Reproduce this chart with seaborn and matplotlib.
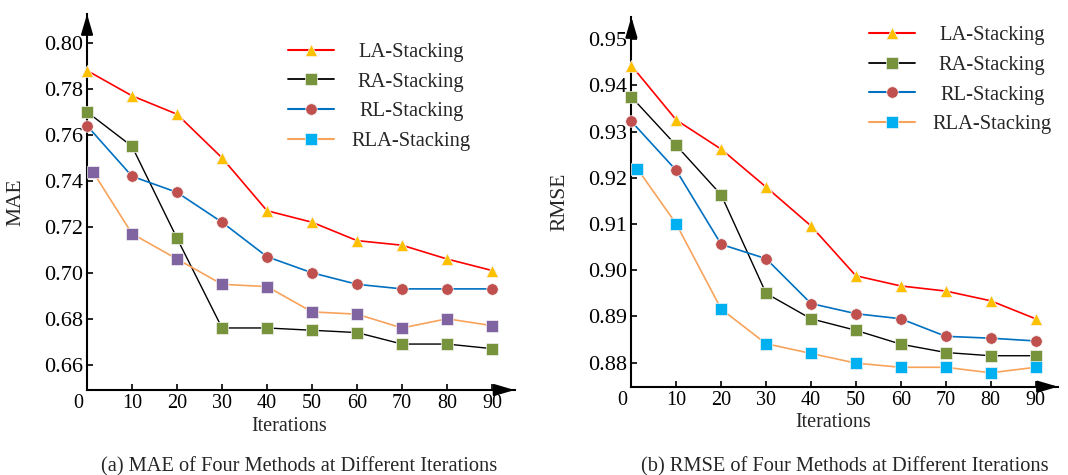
import matplotlib
matplotlib.use('Agg')
import matplotlib.pyplot as plt
import matplotlib.transforms as mtransforms
from matplotlib.lines import Line2D
import seaborn as sns

# 데이터
iterations = [0, 10, 20, 30, 40, 50, 60, 70, 80, 90]
rla_iterations = [1.3, 10, 20, 30, 40, 50, 60, 70, 80, 90]

mae_la = [0.788, 0.777, 0.769, 0.750, 0.727, 0.722, 0.714, 0.712, 0.706, 0.701]
mae_ra = [0.770, 0.755, 0.715, 0.676, 0.676, 0.675, 0.674, 0.669, 0.669, 0.667]
mae_rl = [0.764, 0.742, 0.735, 0.722, 0.707, 0.700, 0.695, 0.693, 0.693, 0.693]
mae_rla = [0.744, 0.717, 0.706, 0.695, 0.694, 0.683, 0.682, 0.676, 0.680, 0.677]

rmse_la = [0.9443, 0.9325, 0.9262, 0.9180, 0.9096, 0.8988, 0.8966, 0.8955, 0.8934, 0.8895]
rmse_ra = [0.9375, 0.9270, 0.9163, 0.8950, 0.8895, 0.8870, 0.8840, 0.8822, 0.8815, 0.8815]
rmse_rl = [0.9322, 0.9216, 0.9056, 0.9025, 0.8928, 0.8906, 0.8895, 0.8857, 0.8853, 0.8847]
rmse_rla = [0.9220, 0.9100, 0.8916, 0.8841, 0.8820, 0.8799, 0.8790, 0.8790, 0.8778, 0.8790]

methods = ['LA-Stacking', 'RA-Stacking', 'RL-Stacking', 'RLA-Stacking']
line_colors = ['#FF0000', '#000000', '#0070C0', '#F7A35C']
marker_colors = ['#FFC000', '#77933C', '#C0504D', '#00B0F0']
mae_marker_colors = ['#FFC000', '#77933C', '#C0504D', '#8064A2']
markers = ['^', 's', 'o', 's']
marker_sizes = [8, 8.5, 8.3, 8.5]
line_widths = [1.2, 1.0, 1.2, 1.2]

sns.set_style('ticks')
plt.rcParams['font.family'] = ['Liberation Serif', 'DejaVu Serif']
plt.rcParams['font.size'] = 14.5

fig = plt.figure(figsize=(10.68, 4.75), dpi=100)
ax1 = fig.add_axes([0.0815, 0.1789, 0.4003, 0.7916])
ax2 = fig.add_axes([0.5912, 0.1859, 0.3994, 0.7783])


def draw_panel(ax, series, x_lists, mcolors, ylim, yticks, ylabel):
    for i, y in enumerate(series):
        sns.lineplot(x=x_lists[i], y=y, ax=ax, color=line_colors[i], linewidth=line_widths[i],
                     marker=markers[i], markersize=marker_sizes[i], markerfacecolor=mcolors[i],
                     markeredgecolor='#f4f4f4', markeredgewidth=0.5, clip_on=False, zorder=3)
    ax.set_xlim(0, 95)
    ax.set_ylim(*ylim)
    ax.set_xticks(iterations)
    ax.set_xticklabels(['0'] + [str(v) for v in iterations[1:]])
    ax.set_yticks(yticks)
    ax.set_yticklabels([f'{v:.2f}' for v in yticks])
    ax.tick_params(direction='in', length=4, width=1.2, pad=3, colors='black')
    ax.tick_params(axis='x', labelsize=14.5)
    ax.tick_params(axis='y', labelsize=16)
    # 원점 "0" 라벨은 축 왼쪽으로
    ax.xaxis.get_major_ticks()[0].tick1line.set_visible(False)
    lab0 = ax.get_xticklabels()[0]
    lab0.set_transform(lab0.get_transform() + mtransforms.ScaledTranslation(-0.09, 0, fig.dpi_scale_trans))
    for side in ['top', 'right']:
        ax.spines[side].set_visible(False)
    for side in ['left', 'bottom']:
        ax.spines[side].set_linewidth(1.5)
        ax.spines[side].set_color('black')
    ax.set_facecolor('white')
    # 축 화살표
    arrow = dict(arrowstyle='-|>,head_length=0.85,head_width=0.25', color='black', lw=1.5,
                 shrinkA=0, shrinkB=0)
    ax.annotate('', xy=(0, 1.0), xytext=(0, 0.95), xycoords='axes fraction',
                arrowprops=arrow, annotation_clip=False)
    ax.annotate('', xy=(1.0, 0), xytext=(0.95, 0), xycoords='axes fraction',
                arrowprops=arrow, annotation_clip=False)
    ax.set_xlabel('Iterations', fontsize=14.5)
    ax.xaxis.set_label_coords(45 / 95, -0.072)
    ax.set_ylabel(ylabel, fontsize=15.5)
    ax.yaxis.set_label_coords(-0.145, 0.5)


draw_panel(ax1, [mae_la, mae_ra, mae_rl, mae_rla],
           [iterations, iterations, iterations, rla_iterations],
           mae_marker_colors, (0.649, 0.8126), [0.66, 0.68, 0.70, 0.72, 0.74, 0.76, 0.78, 0.80], 'MAE')
draw_panel(ax2, [rmse_la, rmse_ra, rmse_rl, rmse_rla],
           [iterations, iterations, iterations, rla_iterations],
           marker_colors, (0.8748, 0.9548), [0.88, 0.89, 0.90, 0.91, 0.92, 0.93, 0.94, 0.95], 'RMSE')

legends = []
for ax, anchor in [(ax1, (0.470, 0.924)), (ax2, (0.557, 0.976))]:
    handles = [Line2D([], [], color=line_colors[i], linewidth=line_widths[i] + 0.3, marker=markers[i],
                      markersize=marker_sizes[i], markerfacecolor=marker_colors[i],
                      markeredgecolor='#f4f4f4', markeredgewidth=0.5) for i in range(4)]
    leg = ax.legend(handles, methods, loc='upper left', bbox_to_anchor=anchor, frameon=False,
                    borderpad=0, handlelength=2.25, handletextpad=0.85, labelspacing=0.5,
                    fontsize=14.8, borderaxespad=0)
    legends.append(leg)

fig.text(299 / 1068, 1 - 467 / 475, '(a) MAE of Four Methods at Different Iterations',
         ha='center', va='center', fontsize=14.7)
fig.text(845 / 1068, 1 - 467 / 475, '(b) RMSE of Four Methods at Different Iterations',
         ha='center', va='center', fontsize=14.7)

# 범례 글자 가운데 정렬
fig.canvas.draw()
for leg in legends:
    texts = leg.get_texts()
    widths = [t.get_window_extent().width for t in texts]
    mw = max(widths)
    for t, w in zip(texts, widths):
        t.set_x((mw - w) / 2)

fig.savefig('out.png', dpi=100, facecolor='white')
